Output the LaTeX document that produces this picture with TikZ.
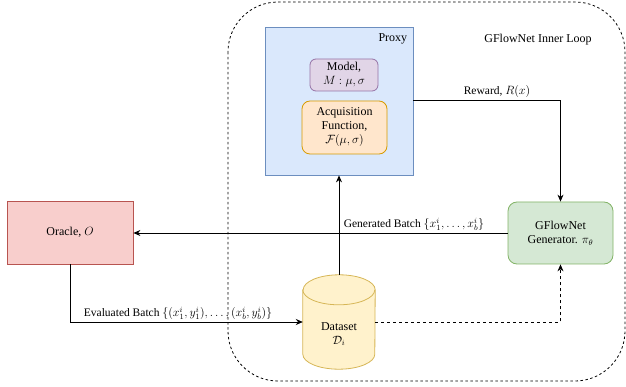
\documentclass[tikz,border=0pt]{standalone}
\usepackage{fontspec}
\setmainfont{Liberation Serif}
\usetikzlibrary{arrows.meta}
\definecolor{bluefill}{HTML}{DAE8FC}\definecolor{bluedraw}{HTML}{6C8EBF}
\definecolor{purpfill}{HTML}{E1D5E7}\definecolor{purpdraw}{HTML}{9673A6}
\definecolor{orgfill}{HTML}{FFE6CC}\definecolor{orgdraw}{HTML}{D79B00}
\definecolor{redfill}{HTML}{F8CECC}\definecolor{reddraw}{HTML}{B85450}
\definecolor{grnfill}{HTML}{D5E8D4}\definecolor{grndraw}{HTML}{82B366}
\definecolor{ylwfill}{HTML}{FFF2CC}\definecolor{ylwdraw}{HTML}{D6B656}
\tikzset{
  box/.style={draw, line width=0.8pt, align=center, inner sep=0pt, font=\fontsize{12}{14}\selectfont},
  rbox/.style={box, rounded corners=6pt},
  lbl/.style={font=\fontsize{11.5}{13}\selectfont, inner sep=1pt},
  conn/.style={line width=0.8pt, -{Stealth[length=7pt,width=6pt]}},
  dconn/.style={conn, dash pattern=on 3pt off 3pt},
}
\begin{document}
\begin{tikzpicture}[x=1pt,y=-1pt]
\useasboundingbox (0,0) rectangle (626,387);
% outer dashed loop
\draw[line width=0.8pt, dash pattern=on 2.5pt off 2.5pt, rounded corners=50pt] (228,2) rectangle (625,381);
\node[lbl, font=\fontsize{12}{14}\selectfont] (loop) at (538,40) {GFlowNet Inner Loop};
% proxy
\node[box, fill=bluefill, draw=bluedraw, minimum width=148pt, minimum height=148pt] (proxy) at (339,101) {};
\node[font=\fontsize{12}{14}\selectfont, anchor=north east, inner sep=0pt] (proxylbl) at ([xshift=-6pt,yshift=-7pt]proxy.north east) {Proxy};
\node[rbox, fill=purpfill, draw=purpdraw, minimum width=68pt, minimum height=32pt] (model) at (344,75) {Model,\\ $M:\mu,\sigma$};
\node[rbox, rounded corners=8pt, fill=orgfill, draw=orgdraw, minimum width=85pt, minimum height=53pt] (acq) at (344.5,127.5) {Acquisition\\ Function,\\ $\mathcal{F}(\mu,\sigma)$};
% oracle
\node[box, fill=redfill, draw=reddraw, minimum width=126pt, minimum height=63pt] (oracle) at (70,232.5) {Oracle, $O$};
% gflownet
\node[rbox, rounded corners=9pt, fill=grnfill, draw=grndraw, minimum width=105pt, minimum height=62pt] (gfn) at (560.5,233) {GFlowNet\\ Generator. $\pi_\theta$};
% dataset cylinder
\node[minimum width=72pt, minimum height=94pt, inner sep=0pt] (ds) at (339,322) {};
\fill[ylwfill, draw=ylwdraw, line width=0.8pt]
  ([yshift=-15pt]ds.north west) -- ([yshift=15pt]ds.south west)
  arc[start angle=180, end angle=360, x radius=36pt, y radius=15pt]
  -- ([yshift=-15pt]ds.north east)
  arc[start angle=0, end angle=180, x radius=36pt, y radius=15pt] -- cycle;
\draw[ylwdraw, line width=0.8pt] ([yshift=-15pt]ds.north west)
  arc[start angle=180, end angle=360, x radius=36pt, y radius=15pt];
\node[align=center, font=\fontsize{12}{14}\selectfont] (dslbl) at (339,334) {Dataset\\ $\mathcal{D}_i$};
% connectors
\coordinate (rwcorner) at (gfn.north |- 0,100.5);
\draw[conn] (proxy.east |- rwcorner) -- (rwcorner) -- (gfn.north);
\node[lbl, anchor=south] (rwlbl) at (497,99) {Reward, $R(x)$};
\draw[conn] (gfn.west) -- (oracle.east |- gfn.west);
\node[lbl, anchor=south] (genlbl) at (414,232) {Generated Batch $\{x_1^i,\ldots,x_b^i\}$};
\draw[conn] (ds.north) -- (proxy.south);
\coordinate (evcorner) at (oracle.south |- ds.west);
\draw[conn] (oracle.south) -- (evcorner) -- (ds.west);
\node[lbl, anchor=south] (evlbl) at (178,321) {Evaluated Batch $\{(x_1^i,y_1^i),\ldots,(x_b^i,y_b^i)\}$};
\coordinate (dscorner) at (gfn.south |- ds.east);
\draw[dconn] (ds.east) -- (dscorner) -- (gfn.south);
\end{tikzpicture}
\end{document}
